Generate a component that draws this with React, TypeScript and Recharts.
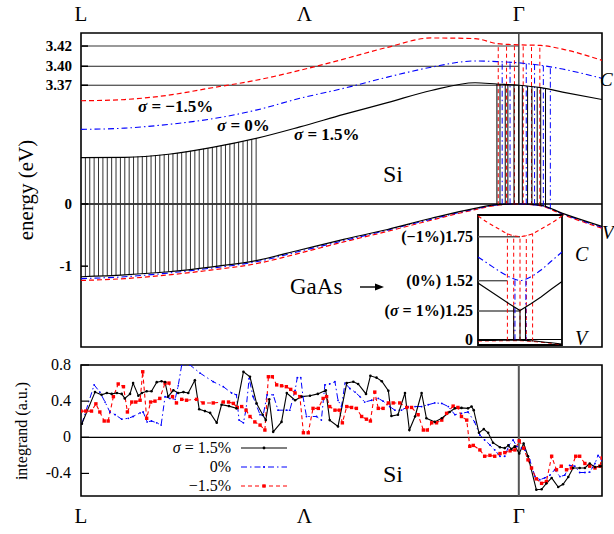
import React from 'react';
import { LineChart, Line, XAxis, YAxis, ReferenceLine, ReferenceArea } from 'recharts';

const FONT = '"Liberation Serif", "DejaVu Serif", serif';
const RED = '#ff0000';
const BLUE = '#0000ff';

// ---------- x axis: path L -> Λ -> Γ (Γ = 100) ----------
const pathTicks = [0, 51, 100];
const pathLabels = ['L', 'Λ', 'Γ'];

// ---------- top panel: band energies (display units, 0 = valence top) ----------
const energyTicks = [-1, 0, 1.91, 2.215, 2.54];
const energyLabels = ['-1', '0', '3.37', '3.40', '3.42'];
const gapLevels = [2.54, 2.215, 1.91];

const bandK = [0, 10, 20, 30, 40, 50, 60, 70, 80, 90, 95, 100, 105, 110, 119];
const condP15 = [0.745, 0.75, 0.8, 0.91, 1.055, 1.24, 1.44, 1.63, 1.825, 1.95, 1.93, 1.91, 1.87, 1.8, 1.68];
const condP0 = [1.2, 1.22, 1.28, 1.37, 1.51, 1.7, 1.86, 2.04, 2.2, 2.3, 2.29, 2.27, 2.23, 2.17, 2.02];
const condM15 = [1.66, 1.68, 1.75, 1.87, 1.99, 2.15, 2.33, 2.52, 2.67, 2.66, 2.58, 2.56, 2.55, 2.49, 2.31];
const valP15 = [-1.17, -1.14, -1.09, -1.01, -0.91, -0.74, -0.57, -0.41, -0.23, -0.07, -0.01, 0, -0.02, -0.15, -0.36];
const valP0 = [-1.2, -1.17, -1.11, -1.03, -0.93, -0.76, -0.59, -0.42, -0.245, -0.08, -0.015, 0, -0.025, -0.16, -0.375];
const valM15 = [-1.23, -1.2, -1.14, -1.06, -0.96, -0.79, -0.61, -0.44, -0.26, -0.09, -0.02, 0, -0.03, -0.17, -0.39];

// transition (integration) lines
const hatchStart = 0;
const hatchEnd = 40;
const hatchStep = 1;
const gammaBlack = [95, 95.7, 96.9, 97.5, 98.9, 100, 100.8, 102, 103, 104.2, 105, 106.1];
const gammaRed = [95.3, 97.2, 99, 101, 102.9, 104.8];
const gammaBlue = [96.2, 98, 101.7, 103.6, 105.6, 107.2];

// ---------- GaAs inset ----------
const insetK = [-1, -0.75, -0.5, -0.25, 0, 0.25, 0.5, 0.75, 1];
const insetCondM1 = [12.9, 12.2, 11.6, 11.05, 10.85, 11.05, 11.6, 12.2, 12.9];
const insetCond0 = [8.8, 8.1, 7.4, 6.8, 6.45, 6.8, 7.5, 8.4, 9.3];
const insetCondP1 = [6.2, 5.5, 4.8, 4.1, 3.45, 4.1, 4.8, 5.6, 6.35];
const insetVal = [0.45, 0.46, 0.47, 0.48, 0.48, 0.42, 0.33, 0.22, 0.1];
const insetValM = [0.4, 0.41, 0.42, 0.43, 0.43, 0.37, 0.28, 0.17, 0.05];
const insetTicks = [0.55, 3.4, 6.43, 10.83];
const insetLabels = ['0', '(σ = 1%)1.25', '(0%) 1.52', '(−1%)1.75'];
const insetLevelEnds = [0, 0, -0.3];
const insetRedK = [-0.3, -0.15, 0, 0.15, 0.3];
const insetBlueK = [-0.12, 0.14];
const insetBlackK = [-0.15, 0, 0.13];

// ---------- bottom panel: integrand ----------
const integrandTicks = [-0.4, 0, 0.4, 0.8];
const integrandP15: [number, number][] = [[0.2,0.15],[3.2,0.5],[4.7,0.47],[5.9,0.49],[7.0,0.48],[8.2,0.49],[9.3,0.48],[10.0,0.43],[11.2,0.48],[11.9,0.6],[13.1,0.46],[13.9,0.49],[15.0,0.51],[16.1,0.51],[17.3,0.61],[18.4,0.62],[19.2,0.61],[19.9,0.45],[21.1,0.52],[22.2,0.49],[23.4,0.5],[24.5,0.49],[26.0,0.63],[27.0,0.31],[28.3,0.29],[29.5,0.27],[31.0,0.16],[32.1,0.36],[33.8,0.345],[35.5,0.32],[37.1,0.725],[38.6,0.67],[40.1,0.375],[41.5,0.25],[42.2,0.19],[43.0,0.42],[43.9,0.06],[45.8,0.17],[47.0,0.49],[48.9,0.41],[50.4,0.45],[52.3,0.46],[54.1,0.48],[55.9,0.52],[56.8,0.19],[58.7,0.12],[60.7,0.6],[62.2,0.615],[63.3,0.59],[65.1,0.48],[66.1,0.68],[67.5,0.66],[68.7,0.62],[70.2,0.515],[70.9,0.235],[72.4,0.25],[74.0,0.49],[75.0,0.08],[76.3,0.23],[77.8,0.49],[78.9,0.21],[80.8,0.17],[82.4,0.21],[84.2,0.28],[85.4,0.32],[86.9,0.325],[88.4,0.32],[89.2,0.34],[89.7,0.3],[90.9,0.05],[92.0,0.09],[93.0,0.05],[94.1,-0.06],[95.7,-0.11],[96.8,-0.12],[97.6,-0.09],[98.3,-0.13],[99.1,-0.1],[100.1,-0.18],[101.1,-0.07],[102.1,-0.21],[104.0,-0.58],[105.2,-0.575],[106.3,-0.51],[107.5,-0.45],[109.0,-0.55],[110.1,-0.52],[111.3,-0.44],[112.4,-0.34],[113.9,-0.34],[115.1,-0.34],[116.2,-0.29],[117.4,-0.33],[118.5,-0.32],[119,-0.32]];
const integrand0: [number, number][] = [[0.2,0.15],[3.0,0.58],[4.3,0.5],[5.5,0.39],[6.6,0.28],[7.8,0.25],[9.3,0.2],[10.8,0.21],[11.9,0.23],[13.5,0.27],[14.2,0.28],[15.1,0.17],[16.1,0.18],[17.3,0.16],[18.3,0.135],[19.2,0.45],[20.3,0.43],[21.5,0.42],[22.2,0.57],[23.0,0.8],[24.9,0.8],[27.2,0.71],[30.2,0.615],[32.5,0.56],[34.4,0.49],[35.5,0.47],[36.1,0.19],[37.1,0.16],[37.7,0.31],[38.4,0.65],[39.3,0.45],[40.9,0.25],[41.6,0.24],[42.5,0.47],[43.9,0.47],[45.0,0.3],[46.9,0.3],[47.7,0.3],[48.9,0.52],[49.4,0.66],[50.2,0.66],[50.7,0.45],[51.5,0.23],[53.8,0.23],[54.9,0.19],[55.7,0.58],[56.8,0.59],[58.0,0.615],[58.7,0.41],[59.5,0.34],[60.3,0.6],[61.4,0.54],[62.6,0.5],[63.7,0.45],[64.8,0.39],[66.4,0.41],[67.9,0.43],[69.0,0.4],[70.5,0.34],[71.7,0.3],[73.2,0.3],[74.7,0.34],[76.3,0.34],[77.8,0.34],[79.3,0.36],[80.8,0.38],[82.4,0.375],[83.9,0.34],[85.4,0.25],[86.9,0.265],[88.4,0.28],[89.9,0.17],[91.1,0.025],[92.2,-0.03],[93.4,-0.085],[94.5,-0.14],[95.7,-0.21],[96.8,-0.21],[97.8,-0.085],[98.7,-0.03],[99.5,-0.1],[100.6,-0.12],[101.4,-0.14],[102.5,-0.25],[103.7,-0.435],[104.8,-0.47],[105.9,-0.45],[107.1,-0.42],[108.2,-0.36],[109.4,-0.435],[110.5,-0.42],[111.6,-0.31],[112.8,-0.32],[113.9,-0.39],[115.1,-0.39],[116.2,-0.385],[117.4,-0.29],[118.1,-0.2],[118.9,-0.25]];
const integrandM15: [number, number][] = [[0,0.29],[1.1,0.29],[2.4,0.29],[3.4,0.37],[4.3,0.28],[5.3,0.18],[6.2,0.18],[7.4,0.45],[8.5,0.59],[9.7,0.56],[10.6,0.28],[11.6,0.39],[12.5,0.39],[13.5,0.41],[14.1,0.725],[15.0,0.21],[15.9,0.39],[16.9,0.4],[18.0,0.43],[19.2,0.6],[20.1,0.6],[20.9,0.45],[21.8,0.38],[23.0,0.42],[24.1,0.41],[26.4,0.42],[27.9,0.38],[30.2,0.38],[32.5,0.39],[33.7,0.39],[34.8,0.375],[35.7,0.33],[36.7,0.34],[37.7,0.3],[38.6,0.23],[39.7,0.17],[40.9,0.135],[42.0,0.08],[42.8,0.67],[43.7,0.67],[44.7,0.58],[45.8,0.57],[46.9,0.56],[47.9,0.53],[48.9,0.49],[50.0,0.45],[50.8,0.05],[51.9,0.05],[53.0,0.32],[54.2,0.32],[55.3,0.43],[56.1,0.45],[56.8,0.34],[58.0,0.3],[59.0,0.3],[59.7,0.16],[60.7,0.34],[61.8,0.33],[62.9,0.32],[64.1,0.23],[65.2,0.2],[66.1,0.18],[67.1,0.5],[67.9,0.32],[69.0,0.32],[70.2,0.38],[71.3,0.38],[72.8,0.38],[74.4,0.33],[75.5,0.33],[77.0,0.25],[78.2,0.08],[79.1,0.08],[80.1,0.16],[81.2,0.16],[82.4,0.19],[83.5,0.265],[85.0,0.345],[86.1,0.33],[86.9,0.23],[88.1,0.19],[88.8,-0.1],[89.6,-0.09],[91.1,-0.14],[92.2,-0.21],[93.4,-0.2],[94.5,-0.21],[95.7,-0.18],[96.8,-0.17],[98.0,-0.15],[99.1,-0.14],[100.1,-0.04],[101.1,-0.12],[102.1,-0.25],[102.9,-0.34],[104.0,-0.46],[105.2,-0.51],[106.3,-0.49],[107.5,-0.21],[108.6,-0.36],[109.7,-0.32],[110.9,-0.36],[112.0,-0.34],[113.0,-0.21],[113.9,-0.21],[115.1,-0.29],[116.2,-0.32],[117.4,-0.34],[118.5,-0.32],[119,-0.23]];

// ---------- helpers ----------
const interp = (xs: number[], ys: number[], x: number) => {
  if (x <= xs[0]) return ys[0];
  for (let i = 1; i < xs.length; i++) {
    if (x <= xs[i]) {
      const t = (x - xs[i - 1]) / (xs[i] - xs[i - 1]);
      return ys[i - 1] + t * (ys[i] - ys[i - 1]);
    }
  }
  return ys[ys.length - 1];
};

const withSigma = (s: string) =>
  s.split('σ').flatMap((part, i) =>
    i === 0 ? [part] : [<tspan key={i} fontStyle="italic">σ</tspan>, part]
  );

const nearestIndex = (arr: number[], v: number) => {
  let best = 0;
  arr.forEach((a, i) => { if (Math.abs(a - v) < Math.abs(arr[best] - v)) best = i; });
  return best;
};

const bandRows = bandK.map((k, i) => ({
  k, cP15: condP15[i], cP0: condP0[i], cM15: condM15[i], vP15: valP15[i], vP0: valP0[i], vM15: valM15[i],
}));
const insetRows = insetK.map((k, i) => ({
  k, cM1: insetCondM1[i], c0: insetCond0[i], cP1: insetCondP1[i], v: insetVal[i], vM: insetValM[i],
}));
const toRows = (pts: [number, number][]) => pts.map(([k, v]) => ({ k, v }));

const hatchK: number[] = [];
for (let k = hatchStart; k <= hatchEnd; k += hatchStep) hatchK.push(k);

// ---------- tick renderers ----------
const TopPathTick = (p: any) => (
  <text x={p.x} y={p.y - 12} textAnchor="middle" fontFamily={FONT} fontSize={21}>
    {pathLabels[nearestIndex(pathTicks, p.payload.value)]}
  </text>
);
const BottomPathTick = (p: any) => (
  <text x={p.x} y={p.y + 27} textAnchor="middle" fontFamily={FONT} fontSize={21}>
    {pathLabels[nearestIndex(pathTicks, p.payload.value)]}
  </text>
);
const EnergyTick = (p: any) => (
  <g>
    <text x={p.x} y={p.y + 5} textAnchor="end" fontFamily={FONT} fontSize={15} fontWeight="bold">
      {energyLabels[nearestIndex(energyTicks, p.payload.value)]}
    </text>
    <line x1={p.x + 9} x2={p.x + 16} y1={p.y} y2={p.y} stroke="#000" strokeWidth={1.5} />
  </g>
);
const IntegrandTick = (p: any) => (
  <g>
    <text x={p.x} y={p.y + 5} textAnchor="end" fontFamily={FONT} fontSize={16}>
      {String(p.payload.value)}
    </text>
    <line x1={p.x + 10} x2={p.x + 18} y1={p.y} y2={p.y} stroke="#000" strokeWidth={1.2} />
  </g>
);
const InsetTick = (p: any) => (
  <text x={p.x} y={p.y + 5} textAnchor="end" fontFamily={FONT} fontSize={16} fontWeight="bold">
    {withSigma(insetLabels[nearestIndex(insetTicks, p.payload.value)])}
  </text>
);

const blackDot = (p: any) => <circle key={`b${p.index}`} cx={p.cx} cy={p.cy} r={1.3} fill="#000" />;
const blueDot = (p: any) => <circle key={`u${p.index}`} cx={p.cx} cy={p.cy} r={0.9} fill={BLUE} />;
const redDot = (p: any) => <rect key={`r${p.index}`} x={p.cx - 1.7} y={p.cy - 1.7} width={3.4} height={3.4} fill={RED} />;

const DASH = '5 3';
const DASHDOT = '6 3 1.5 3';

const T = (props: any) => <text fontFamily={FONT} {...props} />;

export default function App() {
  return (
    <div style={{ position: 'absolute', left: 0, top: 0, width: 614, height: 534, background: '#fff', overflow: 'hidden' }}>
      {/* ---------- top panel ---------- */}
      <div style={{ position: 'absolute', left: 0, top: 0 }}>
        <LineChart width={614} height={350} data={bandRows} margin={{ top: 0, right: 12, bottom: 3, left: 21 }}>
          <XAxis type="number" dataKey="k" domain={[0, 119]} allowDataOverflow orientation="top" height={33}
            ticks={pathTicks} interval={0} tick={TopPathTick} tickSize={0} tickMargin={0} axisLine={false} tickLine={false} />
          <YAxis type="number" domain={[-2.3, 2.75]} allowDataOverflow ticks={energyTicks} interval={0} width={60}
            tick={EnergyTick} tickSize={0} tickMargin={9} axisLine={false} tickLine={false} />
          {gapLevels.map((y, i) => (
            <ReferenceLine key={`g${i}`} segment={[{ x: 0, y }, { x: 100, y }]} stroke={i === 0 ? '#777' : '#222'} strokeWidth={i === 0 ? 1.6 : 1} />
          ))}
          <ReferenceLine y={0} stroke="#000" strokeWidth={1.4} />
          <ReferenceLine segment={[{ x: 100, y: 2.75 }, { x: 100, y: 0 }]} stroke="#444" strokeWidth={1.5} />
          {hatchK.map((k) => (
            <ReferenceLine key={`h${k}`} segment={[{ x: k, y: interp(bandK, valP15, k) }, { x: k, y: interp(bandK, condP15, k) }]} stroke="#333" strokeWidth={1} />
          ))}
          {gammaRed.map((k) => (
            <ReferenceLine key={`gr${k}`} segment={[{ x: k, y: interp(bandK, valM15, k) }, { x: k, y: interp(bandK, condM15, k) }]} stroke={RED} strokeWidth={1} strokeDasharray="4 3" />
          ))}
          {gammaBlue.map((k) => (
            <ReferenceLine key={`gb${k}`} segment={[{ x: k, y: interp(bandK, valP0, k) }, { x: k, y: interp(bandK, condP0, k) }]} stroke={BLUE} strokeWidth={1} strokeDasharray={DASHDOT} />
          ))}
          {gammaBlack.map((k) => (
            <ReferenceLine key={`gk${k}`} segment={[{ x: k, y: interp(bandK, valP15, k) }, { x: k, y: interp(bandK, condP15, k) }]} stroke="#000" strokeWidth={1} />
          ))}
          <Line type="monotone" dataKey="cM15" stroke={RED} strokeWidth={1.2} strokeDasharray={DASH} dot={false} isAnimationActive={false} />
          <Line type="monotone" dataKey="cP0" stroke={BLUE} strokeWidth={1.1} strokeDasharray={DASHDOT} dot={false} isAnimationActive={false} />
          <Line type="monotone" dataKey="cP15" stroke="#000" strokeWidth={1.2} dot={false} isAnimationActive={false} />
          <Line type="monotone" dataKey="vM15" stroke={RED} strokeWidth={1.2} strokeDasharray={DASH} dot={false} isAnimationActive={false} />
          <Line type="monotone" dataKey="vP0" stroke={BLUE} strokeWidth={1.1} strokeDasharray={DASHDOT} dot={false} isAnimationActive={false} />
          <Line type="monotone" dataKey="vP15" stroke="#000" strokeWidth={1.2} dot={false} isAnimationActive={false} />
          <ReferenceArea x1={0} x2={119} y1={-2.3} y2={2.75} fill="none" stroke="#000" strokeWidth={1.6} />
        </LineChart>
      </div>

      {/* ---------- bottom panel ---------- */}
      <div style={{ position: 'absolute', left: 0, top: 350 }}>
        <LineChart width={614} height={184} margin={{ top: 15, right: 12, bottom: 0, left: 21 }}>
          <XAxis type="number" dataKey="k" domain={[0, 119]} allowDataOverflow height={38}
            ticks={pathTicks} interval={0} tick={BottomPathTick} tickSize={0} tickMargin={0} axisLine={false} tickLine={false} />
          <YAxis type="number" domain={[-0.65, 0.8]} allowDataOverflow ticks={integrandTicks} interval={0} width={60}
            tick={IntegrandTick} tickSize={0} tickMargin={10} axisLine={false} tickLine={false} />
          <ReferenceLine y={0} stroke="#000" strokeWidth={1.2} />
          <ReferenceLine x={100} stroke="#555" strokeWidth={2} />
          <Line data={toRows(integrand0)} dataKey="v" type="linear" stroke={BLUE} strokeWidth={1} strokeDasharray={DASHDOT} dot={blueDot} isAnimationActive={false} />
          <Line data={toRows(integrandM15)} dataKey="v" type="linear" stroke={RED} strokeWidth={1.1} strokeDasharray="4 3" dot={redDot} isAnimationActive={false} />
          <Line data={toRows(integrandP15)} dataKey="v" type="linear" stroke="#000" strokeWidth={1.1} dot={blackDot} isAnimationActive={false} />
          <ReferenceArea x1={0} x2={119} y1={-0.65} y2={0.8} fill="none" stroke="#000" strokeWidth={1.6} />
        </LineChart>
      </div>

      {/* ---------- GaAs inset ---------- */}
      <div style={{ position: 'absolute', left: 478, top: 215, width: 84, height: 130, background: '#fff' }} />
      <div style={{ position: 'absolute', left: 370, top: 205 }}>
        <LineChart width={200} height={150} data={insetRows} margin={{ top: 10, right: 8, bottom: 10, left: 0 }}>
          <XAxis type="number" dataKey="k" domain={[-1, 1]} allowDataOverflow hide />
          <YAxis type="number" domain={[0, 13]} allowDataOverflow ticks={insetTicks} interval={0} width={108}
            tick={InsetTick} tickSize={0} tickMargin={5} axisLine={false} tickLine={false} />
          {insetTicks.slice(1).map((y, i) => (
            <ReferenceLine key={`il${i}`} segment={[{ x: -1, y }, { x: insetLevelEnds[i + 1] ?? 0, y }]} stroke="#555" strokeWidth={1.4} />
          ))}
          <ReferenceLine y={insetTicks[0]} stroke="#000" strokeWidth={1.2} />
          {insetRedK.map((k) => (
            <ReferenceLine key={`ir${k}`} segment={[{ x: k, y: interp(insetK, insetValM, k) }, { x: k, y: interp(insetK, insetCondM1, k) }]} stroke={RED} strokeWidth={1} strokeDasharray="4 3" />
          ))}
          {insetBlueK.map((k) => (
            <ReferenceLine key={`ib${k}`} segment={[{ x: k, y: interp(insetK, insetVal, k) }, { x: k, y: interp(insetK, insetCond0, k) }]} stroke={BLUE} strokeWidth={1} strokeDasharray={DASHDOT} />
          ))}
          {insetBlackK.map((k) => (
            <ReferenceLine key={`ik${k}`} segment={[{ x: k, y: interp(insetK, insetVal, k) }, { x: k, y: interp(insetK, insetCondP1, k) }]} stroke="#000" strokeWidth={1} />
          ))}
          <Line type="monotone" dataKey="cM1" stroke={RED} strokeWidth={1.1} strokeDasharray="4 3" dot={false} isAnimationActive={false} />
          <Line type="monotone" dataKey="c0" stroke={BLUE} strokeWidth={1.1} strokeDasharray={DASHDOT} dot={false} isAnimationActive={false} />
          <Line type="linear" dataKey="cP1" stroke="#000" strokeWidth={1.1} dot={false} isAnimationActive={false} />
          <Line type="monotone" dataKey="vM" stroke={RED} strokeWidth={1} strokeDasharray="4 3" dot={false} isAnimationActive={false} />
          <Line type="monotone" dataKey="v" stroke="#000" strokeWidth={1.1} dot={false} isAnimationActive={false} />
          <ReferenceArea x1={-1} x2={1} y1={0} y2={13} fill="none" stroke="#000" strokeWidth={1.8} />
        </LineChart>
      </div>

      {/* ---------- annotations ---------- */}
      <svg width={614} height={534} style={{ position: 'absolute', left: 0, top: 0, pointerEvents: 'none' }}>
        <T transform="translate(33,190) rotate(-90)" textAnchor="middle" fontSize={21}>energy (eV)</T>
        <T transform="translate(27,431) rotate(-90)" textAnchor="middle" fontSize={16}>integrand (a.u.)</T>

        <T x={138} y={112} fontSize={17} fontWeight="bold">{withSigma('σ = −1.5%')}</T>
        <T x={217} y={131} fontSize={17} fontWeight="bold">{withSigma('σ = 0%')}</T>
        <T x={294} y={140} fontSize={17} fontWeight="bold">{withSigma('σ = 1.5%')}</T>

        <T x={383} y={182} fontSize={24}>Si</T>
        <T x={383} y={482} fontSize={24}>Si</T>

        <T x={290} y={294} fontSize={23}>GaAs</T>
        <line x1={360} x2={378} y1={287} y2={287} stroke="#000" strokeWidth={1.4} />
        <polygon points="384,287 375,283.5 375,290.5" fill="#000" />

        <T x={600} y={86} fontSize={19} fontStyle="italic">C</T>
        <T x={602} y={239} fontSize={19} fontStyle="italic">V</T>
        <T x={575} y={261} fontSize={20} fontStyle="italic">C</T>
        <T x={575} y={345} fontSize={20} fontStyle="italic">V</T>

        {/* legend */}
        <T x={231} y={453} textAnchor="end" fontSize={16}>{withSigma('σ = 1.5%')}</T>
        <line x1={241} x2={287} y1={448} y2={448} stroke="#000" strokeWidth={1.1} />
        <circle cx={264} cy={448} r={1.4} fill="#000" />
        <T x={231} y={472} textAnchor="end" fontSize={16}>0%</T>
        <line x1={241} x2={287} y1={467} y2={467} stroke={BLUE} strokeWidth={1} strokeDasharray={DASHDOT} />
        <circle cx={264} cy={467} r={1} fill={BLUE} />
        <T x={231} y={491} textAnchor="end" fontSize={16}>−1.5%</T>
        <line x1={241} x2={287} y1={486} y2={486} stroke={RED} strokeWidth={1.1} strokeDasharray="4 3" />
        <rect x={262.3} y={484.3} width={3.4} height={3.4} fill={RED} />
      </svg>
    </div>
  );
}
